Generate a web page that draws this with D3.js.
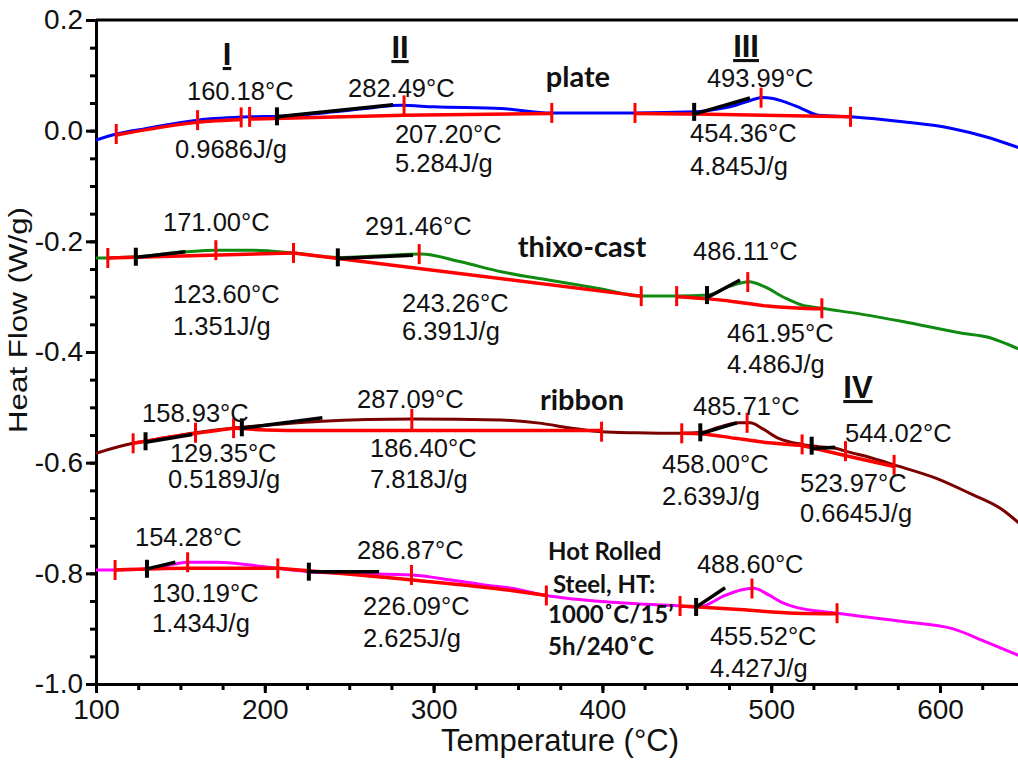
<!DOCTYPE html>
<html>
<head>
<meta charset="utf-8">
<script src="https://cdn.jsdelivr.net/npm/d3@7"></script>
<style>
  body { margin: 0; background: #fff; }
  #dsc text { font-family: "Liberation Sans", Arial, sans-serif; }
</style>
</head>
<body>
<div id="dsc"></div>
<script>
// DSC heat flow curves, temperature in °C, heat flow in W/g
var plateTemp = [100, 112, 130, 160, 191.5, 209, 241, 265, 280.6, 300, 340, 370, 419, 455, 470, 479, 488, 494.5, 501, 508, 518, 528, 547, 578, 607, 627, 647.8];
var plateFlow = [-0.017, -0.006, 0.004, 0.019, 0.025, 0.026, 0.034, 0.042, 0.046, 0.043, 0.040, 0.032, 0.032, 0.034, 0.040, 0.046, 0.055, 0.060, 0.058, 0.052, 0.040, 0.028, 0.025, 0.016, 0.004, -0.011, -0.032];

var thixoTemp = [100, 107, 123, 153, 171, 191.5, 217, 243, 268.7, 292.5, 316, 340, 368, 399.5, 423, 444, 463, 475.5, 487, 496, 508, 518, 530, 554, 578, 613, 628, 640, 647.8];
var thixoFlow = [-0.230, -0.230, -0.228, -0.219, -0.216, -0.216, -0.221, -0.229, -0.226, -0.223, -0.237, -0.255, -0.270, -0.286, -0.299, -0.299, -0.297, -0.281, -0.273, -0.282, -0.302, -0.315, -0.321, -0.332, -0.345, -0.366, -0.373, -0.386, -0.396];

var ribbonTemp = [100, 122, 130, 159, 183, 210, 234, 260, 287.6, 340, 364, 380, 399.5, 420, 447, 459, 469, 480.7, 487.6, 494.5, 504.4, 518.3, 528, 538, 545, 560, 572.8, 597.5, 617.3, 637, 647.8];
var ribbonFlow = [-0.583, -0.565, -0.561, -0.546, -0.537, -0.530, -0.525, -0.522, -0.521, -0.523, -0.529, -0.537, -0.544, -0.546, -0.547, -0.545, -0.536, -0.528, -0.528, -0.538, -0.556, -0.567, -0.571, -0.574, -0.580, -0.592, -0.604, -0.628, -0.655, -0.685, -0.712];

var steelTemp = [100, 111.3, 129.7, 147, 154, 171.7, 191.5, 207.7, 226.1, 250.9, 287.2, 310.3, 330, 346, 366.8, 399.5, 446, 457, 472.7, 482, 489.6, 498.5, 506, 514.3, 539, 578, 607.4, 627.2, 647.8];
var steelFlow = [-0.794, -0.794, -0.792, -0.783, -0.780, -0.780, -0.785, -0.791, -0.797, -0.800, -0.803, -0.812, -0.821, -0.827, -0.840, -0.851, -0.859, -0.861, -0.840, -0.830, -0.827, -0.839, -0.852, -0.861, -0.872, -0.887, -0.900, -0.924, -0.950];

// integration baselines (red), [temperature, heat flow]
var plateBase = [
  [[112, -0.008], [160, 0.015], [186, 0.020]],
  [[191, 0.021], [282.5, 0.028], [370, 0.031]],
  [[419.3, 0.031], [455, 0.030], [547, 0.025]]
];
var thixoBase = [
  [[107, -0.230], [217, -0.221]],
  [[217, -0.221], [423, -0.299]],
  [[444, -0.300], [463, -0.304], [478, -0.309], [498, -0.317], [518, -0.321], [530, -0.322]]
];
var ribbonBase = [
  [[122, -0.565], [150, -0.551], [181.5, -0.538]],
  [[181.5, -0.538], [217, -0.542], [399.5, -0.542]],
  [[447, -0.547], [459, -0.548], [478.7, -0.556], [498.5, -0.564], [518.3, -0.569]],
  [[518.3, -0.569], [545, -0.588], [572.8, -0.607]]
];
var steelBase = [
  [[111.3, -0.794], [154, -0.791], [207.7, -0.791]],
  [[207.7, -0.791], [287.2, -0.812], [346, -0.831], [366.8, -0.840]],
  [[446, -0.859], [478.7, -0.865], [514.3, -0.872], [539, -0.873]]
];

// red marks: integration limits and peak temperatures
var plateMarks = [112, 160.18, 186, 191, 282.49, 370, 419.3, 493.99, 547];
var thixoMarks = [107, 171.00, 217, 291.46, 423, 444, 486.11, 530];
var ribbonMarks = [122, 158.93, 181.5, 287.09, 399.5, 447, 485.71, 518.3, 544.02, 572.8];
var steelMarks = [111.3, 154.28, 207.7, 286.87, 366.8, 446, 488.60, 539];

// black marks: onset temperatures
var plateOnsets = [207.20, 454.36];
var thixoOnsets = [123.60, 243.26, 461.95];
var ribbonOnsets = [129.35, 186.40, 458.00, 523.97];
var steelOnsets = [130.19, 226.09, 455.52];

// onset tangents (black)
var plateTangents = [[[207.2, 0.025], [276, 0.047]], [[454.36, 0.030], [487.4, 0.059]]];
var thixoTangents = [[[123.6, -0.229], [153, -0.219]], [[243.26, -0.231], [287.8, -0.225]], [[461.95, -0.302], [481.5, -0.270]]];
var ribbonTangents = [[[129.35, -0.563], [157, -0.549]], [[186.4, -0.538], [234.1, -0.519]], [[458, -0.548], [479.7, -0.528]], [[523.97, -0.575], [537.9, -0.572]]];
var steelTangents = [[[130.19, -0.792], [147, -0.780]], [[226.09, -0.797], [267.7, -0.797]], [[455.52, -0.861], [472.7, -0.826]]];

// result labels: text, temperature, heat flow (left of baseline)
var plateNotes = [["160.18°C", 153.9, 0.0554], ["0.9686J/g", 146.8, -0.0494], ["282.49°C", 249.3, 0.0608],
  ["207.20°C", 277.1, -0.0223], ["5.284J/g", 277.1, -0.0747], ["493.99°C", 461.9, 0.0789],
  ["454.36°C", 451.9, -0.0205], ["4.845J/g", 451.9, -0.0801]];
var thixoNotes = [["171.00°C", 139.7, -0.1813], ["123.60°C", 145.6, -0.3114], ["1.351J/g", 145.6, -0.3693],
  ["291.46°C", 259.4, -0.1886], ["243.26°C", 281.3, -0.3277], ["6.391J/g", 281.3, -0.3783],
  ["486.11°C", 453.7, -0.2337], ["461.95°C", 473.8, -0.3819], ["4.486J/g", 473.8, -0.4380]];
var ribbonNotes = [["158.93°C", 127.3, -0.5265], ["129.35°C", 143.8, -0.5988], ["0.5189J/g", 142.7, -0.6458],
  ["287.09°C", 254.6, -0.5012], ["186.40°C", 262.3, -0.5898], ["7.818J/g", 262.3, -0.6458],
  ["485.71°C", 453.7, -0.5139], ["458.00°C", 435.3, -0.6187], ["2.639J/g", 435.3, -0.6765],
  ["544.02°C", 543.7, -0.5627], ["523.97°C", 517.1, -0.6530], ["0.6645J/g", 517.1, -0.7072]];
var steelNotes = [["154.28°C", 123.1, -0.7506], ["130.19°C", 133.2, -0.8518], ["1.434J/g", 133.2, -0.9060],
  ["286.87°C", 254.6, -0.7741], ["226.09°C", 258.2, -0.8753], ["2.625J/g", 258.2, -0.9331],
  ["488.60°C", 456.0, -0.7994], ["455.52°C", 463.7, -0.9295], ["4.427J/g", 463.7, -0.9873]];

// sample names (centre) and transition numerals (centre)
var sampleNames = [["plate", 385.5, 0.0789], ["thixo-cast", 387.9, -0.2283], ["ribbon", 387.9, -0.5048]];
var steelName = [["Hot Rolled", 367.8, -0.7759], ["Steel, HT:", 370.7, -0.8355], ["1000˚C/15’", 367.8, -0.8898], ["5h/240˚C", 367.8, -0.9476]];
var numerals = [["I", 177.6, 0.1187], ["II", 280.1, 0.1313], ["III", 485.1, 0.1331], ["IV", 551.4, -0.4831]];

var xTickLabels = [100, 200, 300, 400, 500, 600];
var yTickLabels = [0.2, 0.0, -0.2, -0.4, -0.6, -0.8, -1.0];

var svgWidth = 1018;
var svgHeight = 760;
var margin = { top: 20, right: 0, bottom: 76, left: 96 };
var width = svgWidth - margin.left - margin.right;
var height = svgHeight - margin.top - margin.bottom;

var svg = d3.select("#dsc")
  .append("svg")
  .attr("width", svgWidth)
  .attr("height", svgHeight);

var chartGroup = svg.append("g")
  .attr("transform", `translate(${margin.left}, ${margin.top})`);

var xScale = d3.scaleLinear().domain([100, 646.2]).range([0, width]);
var yScale = d3.scaleLinear().domain([-1.0, 0.2]).range([height, 0]);

// axes: major ticks with labels, minor ticks without
var xMajor = d3.axisBottom(xScale).tickValues(xTickLabels).tickSize(9).tickPadding(6).tickSizeOuter(0);
var xMinor = d3.axisBottom(xScale).tickValues(d3.range(125, 646, 25)).tickSize(6).tickSizeOuter(0).tickFormat("");
var yMajor = d3.axisLeft(yScale).tickValues(yTickLabels).tickSize(10).tickPadding(3).tickSizeOuter(0)
  .tickFormat(d => d.toFixed(1));
var yMinor = d3.axisLeft(yScale).tickValues(d3.range(-0.95, 0.2, 0.05)).tickSize(6).tickSizeOuter(0).tickFormat("");

function styleAxis(g) {
  g.selectAll("path").attr("stroke", "#000").attr("stroke-width", 3);
  g.selectAll("line").attr("stroke", "#000").attr("stroke-width", 3);
  g.selectAll("text").attr("font-size", 28).attr("fill", "#111")
    .attr("font-family", "'Liberation Sans', Arial, sans-serif");
}

chartGroup.append("g").attr("transform", `translate(0, ${height})`).call(xMinor).call(styleAxis);
chartGroup.append("g").attr("transform", `translate(0, ${height})`).call(xMajor).call(styleAxis);
chartGroup.append("g").call(yMinor).call(styleAxis);
chartGroup.append("g").call(yMajor).call(styleAxis);

// top frame
chartGroup.append("line")
  .attr("x1", 0).attr("x2", width).attr("y1", 0).attr("y2", 0)
  .attr("stroke", "#000").attr("stroke-width", 3);

chartGroup.append("clipPath").attr("id", "plotClip")
  .append("rect").attr("x", 0).attr("y", 0).attr("width", width).attr("height", height);

var plot = chartGroup.append("g").attr("clip-path", "url(#plotClip)");

var samples = [
  { temp: plateTemp, flow: plateFlow, color: "#0000ff", base: plateBase, marks: plateMarks, onsets: plateOnsets, tangents: plateTangents },
  { temp: thixoTemp, flow: thixoFlow, color: "#108a10", base: thixoBase, marks: thixoMarks, onsets: thixoOnsets, tangents: thixoTangents },
  { temp: ribbonTemp, flow: ribbonFlow, color: "#7a0000", base: ribbonBase, marks: ribbonMarks, onsets: ribbonOnsets, tangents: ribbonTangents },
  { temp: steelTemp, flow: steelFlow, color: "#ff00ff", base: steelBase, marks: steelMarks, onsets: steelOnsets, tangents: steelTangents }
];

var curveLine = d3.line()
  .x(d => xScale(d[0]))
  .y(d => yScale(d[1]))
  .curve(d3.curveMonotoneX);

var straightLine = d3.line()
  .x(d => xScale(d[0]))
  .y(d => yScale(d[1]));

function flowAt(temps, flows, t) {
  var i = d3.bisectLeft(temps, t);
  if (i <= 0) return flows[0];
  if (i >= temps.length) return flows[flows.length - 1];
  var f = (t - temps[i - 1]) / (temps[i] - temps[i - 1]);
  return flows[i - 1] + f * (flows[i] - flows[i - 1]);
}

samples.forEach(function(s) {
  plot.append("path")
    .datum(d3.zip(s.temp, s.flow))
    .attr("fill", "none")
    .attr("stroke", s.color)
    .attr("stroke-width", 3)
    .attr("d", curveLine);

  plot.selectAll(null)
    .data(s.base)
    .enter()
    .append("path")
    .attr("fill", "none")
    .attr("stroke", "#ff0000")
    .attr("stroke-width", 3.5)
    .attr("d", curveLine);

  plot.selectAll(null)
    .data(s.tangents)
    .enter()
    .append("path")
    .attr("fill", "none")
    .attr("stroke", "#000")
    .attr("stroke-width", 3.5)
    .attr("d", straightLine);

  plot.selectAll(null)
    .data(s.marks)
    .enter()
    .append("line")
    .attr("x1", d => xScale(d))
    .attr("x2", d => xScale(d))
    .attr("y1", d => yScale(flowAt(s.temp, s.flow, d)) - 10)
    .attr("y2", d => yScale(flowAt(s.temp, s.flow, d)) + 10)
    .attr("stroke", "#ff0000")
    .attr("stroke-width", 3);

  plot.selectAll(null)
    .data(s.onsets)
    .enter()
    .append("line")
    .attr("x1", d => xScale(d))
    .attr("x2", d => xScale(d))
    .attr("y1", d => yScale(flowAt(s.temp, s.flow, d)) - 9)
    .attr("y2", d => yScale(flowAt(s.temp, s.flow, d)) + 9)
    .attr("stroke", "#000")
    .attr("stroke-width", 4);
});

// temperature / enthalpy labels
var notes = plateNotes.concat(thixoNotes, ribbonNotes, steelNotes);
chartGroup.selectAll(".note")
  .data(notes)
  .enter()
  .append("text")
  .attr("class", "note")
  .attr("x", d => xScale(d[1]))
  .attr("y", d => yScale(d[2]))
  .attr("font-size", 25.5)
  .attr("fill", "#111")
  .text(d => d[0]);

chartGroup.selectAll(".sample")
  .data(sampleNames)
  .enter()
  .append("text")
  .attr("class", "sample")
  .attr("x", d => xScale(d[1]))
  .attr("y", d => yScale(d[2]))
  .attr("text-anchor", "middle")
  .attr("font-size", 29)
  .attr("font-weight", "bold")
  .style("font-family", "Lato, 'Open Sans', sans-serif")
  .attr("fill", "#111")
  .text(d => d[0]);

chartGroup.selectAll(".steel")
  .data(steelName)
  .enter()
  .append("text")
  .attr("class", "steel")
  .attr("x", d => xScale(d[1]))
  .attr("y", d => yScale(d[2]))
  .attr("font-size", 24)
  .attr("font-weight", "bold")
  .style("font-family", "Lato, 'Open Sans', sans-serif")
  .attr("fill", "#111")
  .text(d => d[0]);

chartGroup.selectAll(".numeral")
  .data(numerals)
  .enter()
  .append("text")
  .attr("class", "numeral")
  .attr("x", d => xScale(d[1]))
  .attr("y", d => yScale(d[2]))
  .attr("text-anchor", "middle")
  .attr("font-size", 31)
  .attr("font-weight", "bold")
  .attr("fill", "#111")
  .style("text-decoration", "underline")
  .text(d => d[0]);

// axis titles
chartGroup.append("text")
  .attr("transform", "rotate(-90)")
  .attr("x", 0 - 300)
  .attr("y", 0 - 69)
  .attr("text-anchor", "middle")
  .attr("font-size", 25)
  .attr("textLength", 226)
  .attr("lengthAdjust", "spacingAndGlyphs")
  .attr("fill", "#111")
  .text("Heat Flow (W/g)");

chartGroup.append("text")
  .attr("transform", `translate(${464}, ${height + 67})`)
  .attr("text-anchor", "middle")
  .attr("font-size", 31)
  .attr("fill", "#111")
  .text("Temperature (°C)");
</script>
</body>
</html>
